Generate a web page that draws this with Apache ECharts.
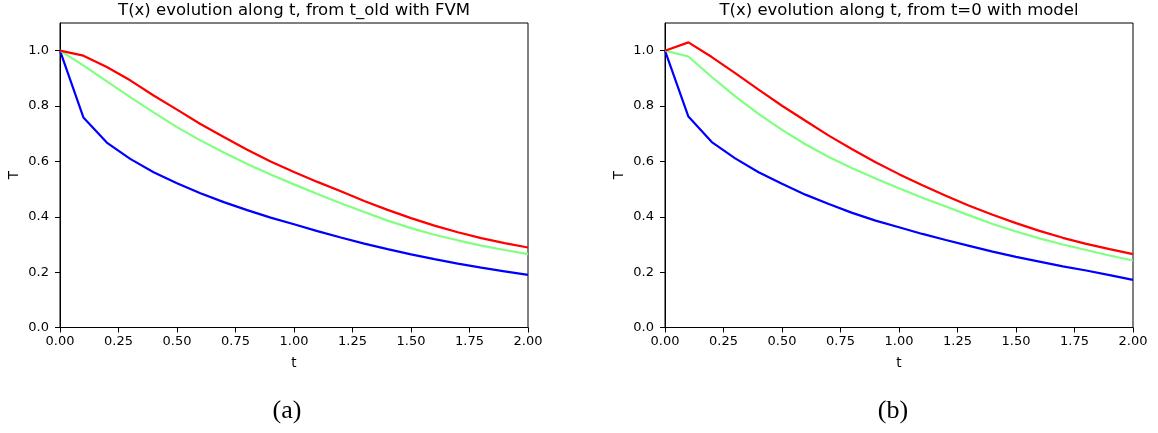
<!DOCTYPE html>
<html>
<head>
<meta charset="utf-8">
<script src="https://cdn.jsdelivr.net/npm/echarts@6/dist/echarts.min.js"></script>
<style>
html,body{margin:0;padding:0;background:#fff;}
#c{width:1158px;height:433px;}
</style>
</head>
<body>
<div id="c"></div>
<script>
// ---- data ----
const tValues = [0.0,0.1,0.2,0.3,0.4,0.5,0.6,0.7,0.8,0.9,1.0,1.1,1.2,1.3,1.4,1.5,1.6,1.7,1.8,1.9,2.0];

// (a) from t_old with FVM
const fvmBlue  = [1.0,0.759,0.668,0.609,0.561,0.521,0.485,0.453,0.424,0.397,0.373,0.348,0.325,0.303,0.283,0.264,0.247,0.231,0.216,0.203,0.190];
const fvmGreen = [1.0,0.947,0.889,0.832,0.777,0.724,0.676,0.632,0.591,0.553,0.517,0.482,0.449,0.417,0.386,0.359,0.335,0.315,0.296,0.280,0.265];
const fvmRed   = [1.0,0.982,0.941,0.893,0.838,0.787,0.735,0.688,0.642,0.600,0.562,0.526,0.492,0.457,0.425,0.395,0.368,0.344,0.323,0.305,0.289];

// (b) from t=0 with model
const mdlBlue  = [1.0,0.762,0.670,0.611,0.561,0.519,0.480,0.446,0.414,0.386,0.362,0.338,0.316,0.295,0.274,0.255,0.238,0.221,0.206,0.189,0.172];
const mdlGreen = [1.0,0.979,0.905,0.835,0.772,0.714,0.662,0.616,0.575,0.538,0.503,0.469,0.437,0.405,0.374,0.347,0.322,0.300,0.280,0.260,0.242];
const mdlRed   = [1.0,1.030,0.977,0.919,0.859,0.801,0.747,0.693,0.644,0.597,0.554,0.514,0.476,0.440,0.407,0.377,0.349,0.324,0.302,0.283,0.265];

const xTicks = [0,0.25,0.5,0.75,1.0,1.25,1.5,1.75,2.0];
const yTicks = [0,0.2,0.4,0.6,0.8,1.0];
const titles = ['T(x) evolution along t, from t_old with FVM','T(x) evolution along t, from t=0 with model'];
const captions = ['(a)','(b)'];
const xName = 't', yName = 'T';

// ---- chart ----
const chart = echarts.init(document.getElementById('c'), null, {renderer:'canvas'});
const FONT = 'DejaVu Sans';
const grids = [
  {left:60, top:23, width:468, height:304.5},
  {left:665, top:23, width:468, height:304.5}
];
const pair = (vals) => tValues.map((t,i)=>[t, vals[i]]);

function xAxis(gi){
  return {
    type:'value', gridIndex:gi, min:0, max:2, interval:0.25,
    name:xName, nameLocation:'middle', nameGap:29,
    nameTextStyle:{fontFamily:FONT,fontSize:13.5,color:'#000'},
    axisLine:{show:true,onZero:false,lineStyle:{color:'#000',width:1}},
    axisTick:{show:true,length:5,inside:false,lineStyle:{color:'#000'},customValues:xTicks},
    axisLabel:{fontFamily:FONT,fontSize:13,color:'#000',margin:8,customValues:xTicks,
      formatter:(v)=>Number(v).toFixed(2)},
    splitLine:{show:false}
  };
}
function yAxis(gi){
  return {
    type:'value', gridIndex:gi, min:0, max:1.1,
    name:yName, nameLocation:'middle', nameGap:39, nameRotate:90,
    nameTextStyle:{fontFamily:FONT,fontSize:13.5,color:'#000'},
    axisLine:{show:true,onZero:false,lineStyle:{color:'#000',width:1}},
    axisTick:{show:true,length:5,inside:false,lineStyle:{color:'#000'},customValues:yTicks},
    axisLabel:{fontFamily:FONT,fontSize:13,color:'#000',margin:11,customValues:yTicks,
      formatter:(v)=>Number(v).toFixed(1)},
    splitLine:{show:false}
  };
}
function line(gi, vals, color){
  return {
    type:'line', xAxisIndex:gi, yAxisIndex:gi, data:pair(vals),
    showSymbol:false, symbol:'none', smooth:false, animation:false,
    lineStyle:{color:color,width:2.2}, itemStyle:{color:color}
  };
}

const option = {
  animation:false,
  backgroundColor:'#fff',
  grid: grids.map(g=>Object.assign({show:true,borderColor:'#000',borderWidth:1,backgroundColor:'transparent'},g)),
  xAxis:[xAxis(0),xAxis(1)],
  yAxis:[yAxis(0),yAxis(1)],
  series:[
    line(0,fvmBlue,'#0000ff'), line(0,fvmGreen,'#80ff80'), line(0,fvmRed,'#ff0000'),
    line(1,mdlBlue,'#0000ff'), line(1,mdlGreen,'#80ff80'), line(1,mdlRed,'#ff0000')
  ],
  graphic:[
    {type:'text', x:294, y:11, style:{text:titles[0], fontFamily:FONT, fontSize:16.5, fill:'#000', align:'center', verticalAlign:'middle'}},
    {type:'text', x:899, y:11, style:{text:titles[1], fontFamily:FONT, fontSize:16.5, fill:'#000', align:'center', verticalAlign:'middle'}},
    {type:'text', x:287, y:411, style:{text:captions[0], fontFamily:'Liberation Serif', fontSize:26, fill:'#000', align:'center', verticalAlign:'middle'}},
    {type:'text', x:893, y:411, style:{text:captions[1], fontFamily:'Liberation Serif', fontSize:26, fill:'#000', align:'center', verticalAlign:'middle'}}
  ]
};
chart.setOption(option);
</script>
</body>
</html>
